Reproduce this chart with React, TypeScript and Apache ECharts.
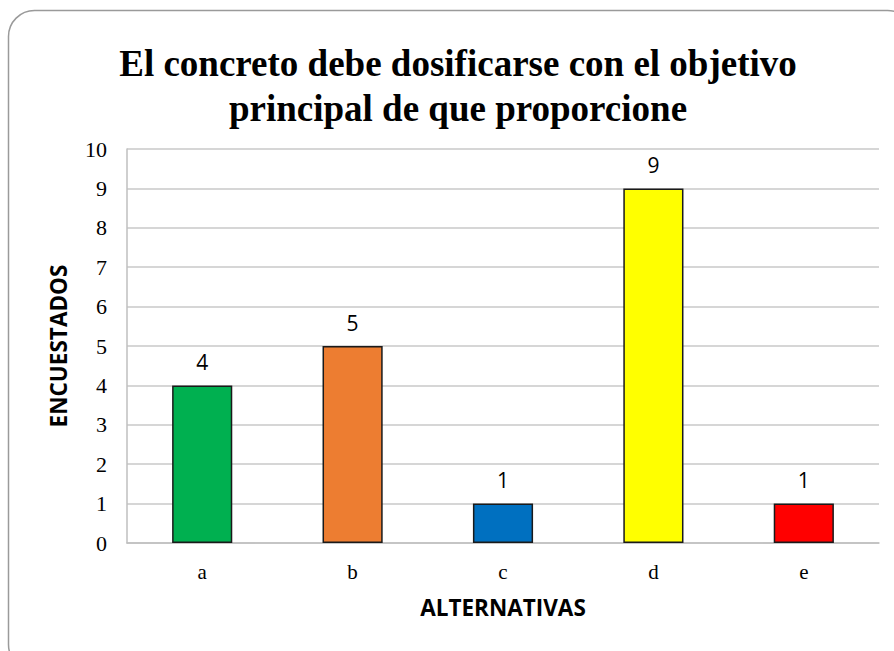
import React, { useEffect, useRef } from "react";
import * as echarts from "echarts";

const titleText = "El concreto debe dosificarse con el objetivo\nprincipal de que proporcione";
const categories = ["a", "b", "c", "d", "e"];
const values = [4, 5, 1, 9, 1];
const barColors = ["#00B050", "#ED7D31", "#0070C0", "#FFFF00", "#FF0000"];
const yAxisName = "ENCUESTADOS";
const xAxisName = "ALTERNATIVAS";

export default function App() {
  const ref = useRef<HTMLDivElement>(null);
  useEffect(() => {
    if (!ref.current) return;
    const chart = echarts.init(ref.current, undefined, { renderer: "svg" });
    chart.setOption({
      animation: false,
      backgroundColor: "#ffffff",
      graphic: [
        {
          type: "rect",
          shape: { x: 8.5, y: 10.5, width: 905, height: 660, r: 26 },
          style: { fill: "none", stroke: "#9a9a9a", lineWidth: 1.5 },
          silent: true,
          z: -1,
        },
      ],
      title: {
        text: titleText,
        left: 453,
        textAlign: "center",
        top: 36,
        textStyle: {
          fontFamily: "Liberation Serif",
          fontWeight: "bold",
          fontSize: 37,
          lineHeight: 45,
          color: "#000",
        },
      },
      grid: { left: 127, right: 15, top: 149, bottom: 108 },
      xAxis: {
        type: "category",
        data: categories,
        name: xAxisName,
        nameLocation: "middle",
        nameGap: 53,
        nameTextStyle: { fontFamily: "Open Sans", fontWeight: "bold", fontSize: 22.5, color: "#000" },
        axisLine: { lineStyle: { color: "#bfbfbf", width: 1.5 } },
        axisTick: { show: false },
        axisLabel: { fontFamily: "Liberation Serif", fontSize: 21, color: "#000", margin: 18 },
      },
      yAxis: {
        type: "value",
        min: 0,
        max: 10,
        interval: 1,
        name: yAxisName,
        nameLocation: "middle",
        nameGap: 57,
        nameTextStyle: { fontFamily: "Open Sans", fontWeight: "bold", fontSize: 22.5, color: "#000" },
        axisLine: { show: true, lineStyle: { color: "#bfbfbf", width: 1.5 } },
        axisTick: { show: false },
        splitLine: { lineStyle: { color: "#c8c8c8", width: 1.5 } },
        axisLabel: { fontFamily: "Liberation Serif", fontSize: 22, color: "#000", margin: 20 },
      },
      series: [
        {
          type: "bar",
          barWidth: "40%",
          data: values.map((v, i) => ({
            value: v,
            itemStyle: { color: barColors[i], borderColor: "#1a1a1a", borderWidth: 1.5 },
          })),
          label: {
            show: true,
            position: "top",
            distance: 13,
            fontFamily: "Open Sans",
            fontSize: 21,
            color: "#000",
          },
        },
      ],
    });
    return () => chart.dispose();
  }, []);
  return (
    <div
      ref={ref}
      style={{ position: "fixed", left: 0, top: 0, width: 894, height: 651 }}
    />
  );
}
